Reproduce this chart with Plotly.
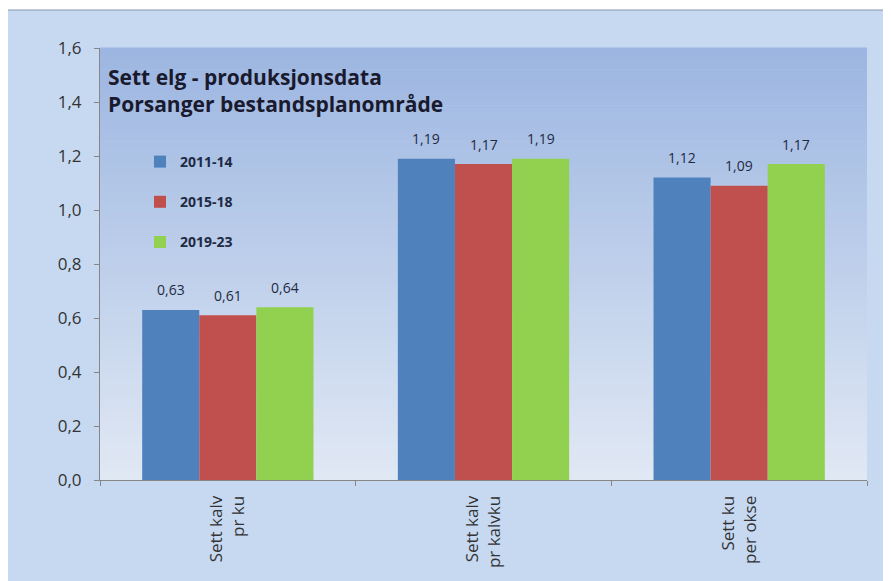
import plotly.graph_objects as go

categories = ["Sett kalv<br>pr ku", "Sett kalv<br>pr kalvku", "Sett ku<br>per okse"]
series_names = ["2011-14", "2015-18", "2019-23"]
v_2011_14 = [0.63, 1.19, 1.12]
v_2015_18 = [0.61, 1.17, 1.09]
v_2019_23 = [0.64, 1.19, 1.17]
y_ticks = [0.0, 0.2, 0.4, 0.6, 0.8, 1.0, 1.2, 1.4, 1.6]

colors = ["#4f81bd", "#c0504d", "#92d050"]
values = [v_2011_14, v_2015_18, v_2019_23]

# page body has an 8px margin; figure is laid out in its own coordinates
OFF = 8
W, H = 891 - OFF, 581 - OFF
L, R, T, B = 100 - OFF, 24, 48 - OFF, 101
pw, ph = W - L - R, H - T - B
BARGAP = 0.33

fig = go.Figure()
for i, (name, vals) in enumerate(zip(series_names, values)):
    fig.add_trace(go.Bar(
        x=categories, y=vals, name=name, legendgroup=name,
        marker=dict(color=colors[i], line=dict(width=0)),
    ))

def px2x(p):
    return (p - OFF - L) / pw

def py2y(p):
    return (H - B - (p - OFF)) / ph

# value labels above each bar
cat_w = pw / len(categories)
bar_w = cat_w * (1 - BARGAP) / len(series_names)
annotations = []
for i, vals in enumerate(values):
    for c, v in zip(categories, vals):
        annotations.append(dict(
            x=c, y=v, xref="x", yref="y", showarrow=False,
            xshift=(i - (len(series_names) - 1) / 2) * bar_w, yshift=20,
            yanchor="middle", xanchor="center",
            text=f"{v:.2f}".replace(".", ","),
            font=dict(family="Open Sans", size=14, color="#1f2a44")))

annotations.append(dict(xref="paper", yref="paper", x=px2x(106), y=py2y(61),
                        xanchor="left", yanchor="top", align="left", showarrow=False,
                        text="<b>Sett elg - produksjonsdata<br>Porsanger bestandsplanområde</b>",
                        font=dict(family="Open Sans", size=21, color="#1a1a2e")))

shapes = []
# outer chart area
shapes.append(dict(type="rect", xref="paper", yref="paper",
                   x0=px2x(6), x1=px2x(900), y0=py2y(10), y1=py2y(600),
                   fillcolor="#c6d9f1", line=dict(color="#8496b0", width=1), layer="below"))
# gradient plot background
n = 60
top = (0x9c, 0xb6, 0xe1)
bot = (0xe0, 0xe8, 0xf4)
for k in range(n):
    t = k / (n - 1)
    c = tuple(int(round(top[j] + (bot[j] - top[j]) * t)) for j in range(3))
    shapes.append(dict(type="rect", xref="paper", yref="paper",
                       x0=0, x1=1, y0=1 - (k + 1) / n, y1=1 - k / n + 0.001,
                       fillcolor="rgb(%d,%d,%d)" % c, line=dict(width=0), layer="below"))

fig.update_layout(
    width=W, height=H,
    margin=dict(l=L, r=R, t=T, b=B),
    paper_bgcolor="white",
    plot_bgcolor="rgba(0,0,0,0)",
    separators=", ",
    barmode="group", bargap=BARGAP, bargroupgap=0,
    shapes=shapes,
    annotations=annotations,
    showlegend=True,
    legend=dict(x=px2x(140), y=py2y(146), xanchor="left", yanchor="top",
                bgcolor="rgba(0,0,0,0)", tracegroupgap=19,
                font=dict(family="Open Sans", size=14, color="#1f2a44", weight="bold"),
                itemwidth=30),
    yaxis=dict(range=[0, 1.6], tickvals=y_ticks,
               ticktext=[f"{v:.1f}".replace(".", ",") for v in y_ticks],
               showgrid=False, zeroline=False, showline=True,
               linecolor="#868686", linewidth=1, ticks="outside", ticklen=5,
               tickcolor="#868686", ticklabelstandoff=9,
               tickfont=dict(family="Open Sans", size=17, color="#333333")),
    xaxis=dict(showgrid=False, showline=True, linecolor="#868686", linewidth=1,
               ticks="outside", ticklen=5, tickcolor="#868686", tickson="boundaries",
               tickangle=-90, ticklabelstandoff=8,
               tickfont=dict(family="Open Sans", size=17, color="#333333")),
)

fig.write_html("out.html")
